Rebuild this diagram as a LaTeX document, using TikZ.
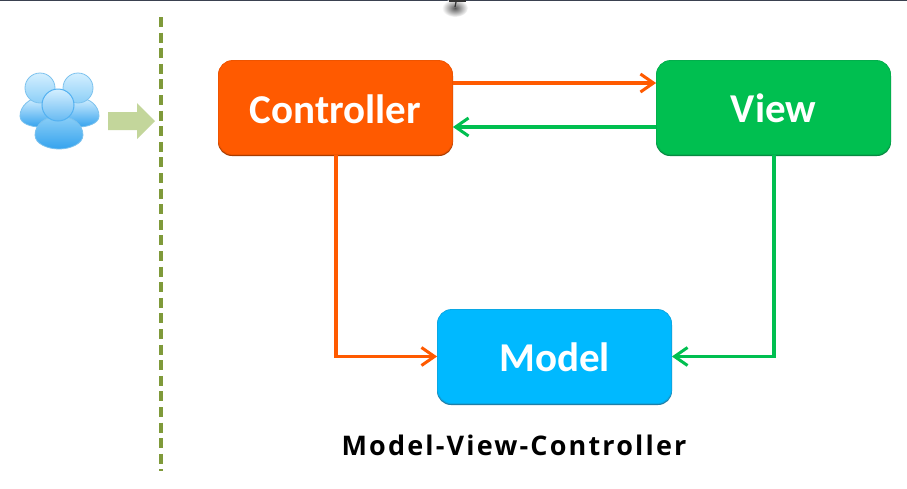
\documentclass[tikz,border=0pt]{standalone}
\usepackage{fontspec}
\setmainfont{Carlito}
\newfontfamily\titlefont[LetterSpace=8]{Open Sans}
\usetikzlibrary{arrows.meta}
\definecolor{orangeC}{HTML}{FF5A00}
\definecolor{orangeD}{HTML}{A83C00}
\definecolor{greenC}{HTML}{00BF50}
\definecolor{greenD}{HTML}{078A42}
\definecolor{blueC}{HTML}{00B9FF}
\definecolor{blueD}{HTML}{1F7FA8}
\definecolor{dashC}{HTML}{7F9A3A}
\definecolor{arrowC}{HTML}{C3D69B}
\definecolor{topC}{HTML}{3A4150}
\definecolor{iconLight}{HTML}{D4EFFF}
\definecolor{iconMid}{HTML}{8CCFF7}
\definecolor{iconDeep}{HTML}{35A3EE}
\definecolor{iconEdge}{HTML}{7CC2EE}
\newcommand{\dropbase}[2]{\raisebox{-#1pt}[0pt][0pt]{#2}}
\tikzset{
  x=1pt,y=-1pt,
  mvcbox/.style={minimum width=234pt,minimum height=94pt,rounded corners=14pt,inner sep=0pt,
    font=\fontsize{41}{44}\selectfont\bfseries,text=white,line width=0.8pt,anchor=center},
  boxedge/.style={rounded corners=14pt},
  wire/.style={line width=3.2pt,-{Straight Barb[length=13pt,width=18pt,line width=3pt]}},
  cwire/.style={wire,draw=orangeC},
  vwire/.style={wire,draw=greenC},
  bubble/.style={draw=iconEdge,line width=0.8pt,top color=iconLight,bottom color=#1},
}
\begin{document}
\begin{tikzpicture}
\useasboundingbox (0,0) rectangle (907,488);
\fill[white] (0,0) rectangle (907,488);
\fill[topC] (0,0) rectangle (907,1.3);
% pointer remnant at the top edge
\shade[inner color=black!65,outer color=white] (455,8) ellipse [x radius=13pt,y radius=9pt];
\fill[black!80] (449,0) rectangle (466,2);
\draw[black!80,line width=1.2pt] (456,2) -- (455,7);
% dashed divider
\coordinate (dtop) at (161,17);
\coordinate (dbot) at (161,471);
\draw[dashC,line width=3.2pt,dash pattern=on 10pt off 5.6pt] (dtop) -- (dbot);
% block arrow
\fill[arrowC] (108,112) -- (137,112) -- (137,103) -- (155,121) -- (137,139) -- (137,130) -- (108,130) -- cycle;
% users icon
\shade[bubble=iconDeep] (20,116) .. controls (20,106) and (30,98) .. (38,98) .. controls (50,98) and (60,106) .. (60,116) .. controls (60,124) and (46,127) .. (40,127) .. controls (32,127) and (20,124) .. (20,116) -- cycle;
\shade[bubble=iconDeep] (59,116) .. controls (59,106) and (69,98) .. (79,98) .. controls (90,98) and (99,106) .. (99,116) .. controls (99,124) and (86,127) .. (79,127) .. controls (72,127) and (59,124) .. (59,116) -- cycle;
\shade[bubble=iconMid] (40,88) circle (15pt);
\shade[bubble=iconMid] (78,88) circle (15pt);
\shade[draw=iconEdge,line width=0.8pt,top color=iconMid,bottom color=iconDeep] (35,135) .. controls (35,124) and (46,116) .. (59,116) .. controls (72,116) and (83,124) .. (83,135) .. controls (83,144) and (70,149) .. (59,149) .. controls (48,149) and (35,144) .. (35,135) -- cycle;
\shade[draw=iconDeep!85,line width=1pt,top color=iconLight,bottom color=iconDeep!75] (58,105) circle (16pt);
% box bottom edges
\fill[orangeD,boxedge] (218,62) rectangle (453,156);
\fill[greenD,boxedge] (656,62) rectangle (891,156);
\fill[blueD,boxedge] (437,311) rectangle (672,405);
% boxes
\node[mvcbox,fill=orangeC,draw=orangeC!80!orangeD] (ctrl) at (335.5,107.5) {\dropbase{15.5}{Controller}};
\node[mvcbox,fill=greenC,draw=greenC!70!greenD] (view) at (773.5,107.5) {\dropbase{15}{View}};
\node[mvcbox,fill=blueC,draw=blueC!70!blueD] (model) at (554.5,356.5) {\dropbase{14.5}{Model}};
% connectors
\draw[cwire] ([yshift=24.5pt]ctrl.east) -- ([yshift=24.5pt]view.west);
\draw[vwire] ([yshift=-19.5pt]view.west) -- ([yshift=-19.5pt]ctrl.east);
\draw[cwire] ([xshift=0.5pt]ctrl.south) |- (model.west);
\draw[vwire] ([xshift=0.5pt]view.south) |- (model.east);
% caption
\node[font=\titlefont\fontsize{27}{30}\selectfont\bfseries,text=black] (cap) at (514,445) {Model-View-Controller};
\end{tikzpicture}
\end{document}
